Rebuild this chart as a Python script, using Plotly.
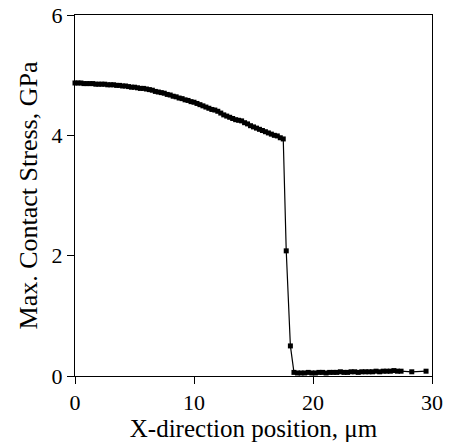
import plotly.graph_objects as go

x_pos = [0, 0.25, 0.5, 0.75, 1, 1.25, 1.5, 1.75, 2, 2.25, 2.5, 2.75, 3, 3.25, 3.5, 3.75,
         4, 4.25, 4.5, 4.75, 5, 5.25, 5.5, 5.75, 6, 6.25, 6.5, 6.75, 7, 7.25, 7.5, 7.75,
         8, 8.25, 8.5, 8.75, 9, 9.25, 9.5, 9.75, 10, 10.25, 10.5, 10.75, 11, 11.25, 11.5,
         11.75, 12, 12.25, 12.5, 12.75, 13, 13.25, 13.5, 13.75, 14, 14.25, 14.5, 14.75,
         15, 15.25, 15.5, 15.75, 16, 16.25, 16.5, 16.75, 17, 17.25, 17.5,
         17.75, 18.1, 18.4, 18.7, 19.0, 19.3, 19.6, 19.9, 20.2, 20.5, 20.8, 21.1, 21.4,
         21.7, 22.0, 22.3, 22.6, 22.9, 23.2, 23.5, 23.8, 24.1, 24.4, 24.7, 25.0, 25.3,
         25.6, 25.9, 26.2, 26.5, 26.8, 27.1, 27.4, 28.3, 29.5]
stress = [4.87, 4.87, 4.87, 4.86, 4.86, 4.86, 4.86, 4.85, 4.85, 4.85, 4.85, 4.84, 4.84,
          4.84, 4.83, 4.83, 4.82, 4.82, 4.81, 4.80, 4.80, 4.79, 4.78, 4.78, 4.77, 4.76,
          4.75, 4.73, 4.72, 4.71, 4.70, 4.68, 4.67, 4.65, 4.64, 4.62, 4.61, 4.59, 4.58,
          4.56, 4.55, 4.53, 4.51, 4.49, 4.47, 4.45, 4.43, 4.42, 4.40, 4.37, 4.34, 4.32,
          4.30, 4.28, 4.26, 4.25, 4.24, 4.21, 4.19, 4.16, 4.14, 4.12, 4.10, 4.08, 4.06,
          4.04, 4.02, 4.00, 3.99, 3.96, 3.94,
          2.08, 0.50, 0.06, 0.05, 0.05, 0.05, 0.06, 0.05, 0.05, 0.06, 0.06, 0.05, 0.06,
          0.06, 0.06, 0.07, 0.06, 0.06, 0.07, 0.07, 0.06, 0.07, 0.07, 0.07, 0.07, 0.08,
          0.07, 0.08, 0.08, 0.08, 0.09, 0.08, 0.08, 0.07, 0.08]

x_ticks = [0, 10, 20, 30]
y_ticks = [0, 2, 4, 6]

fig = go.Figure()
fig.add_trace(go.Scatter(
    x=x_pos, y=stress, mode="lines+markers",
    line=dict(color="black", width=1.2),
    marker=dict(symbol="square", size=5, color="black"),
    showlegend=False, cliponaxis=False,
))

font = dict(family="Liberation Serif, Times New Roman, serif", color="black")
fig.update_layout(
    width=453, height=445,
    margin=dict(l=75, r=21, t=15, b=69, autoexpand=False),
    paper_bgcolor="white", plot_bgcolor="white",
    font=dict(size=22, **font),
)
fig.update_xaxes(
    range=[0, 30], tickvals=x_ticks, ticks="outside", ticklen=7, tickwidth=1,
    tickcolor="black", showline=True, linecolor="black", linewidth=1, mirror=True,
    showgrid=False, zeroline=False, tickfont=dict(size=22), automargin=False,
    title=dict(text="X-direction position, μm", font=dict(size=25), standoff=4),
)
fig.update_yaxes(
    range=[0, 6], tickvals=y_ticks, ticks="outside", ticklen=7, tickwidth=1,
    tickcolor="black", showline=True, linecolor="black", linewidth=1, mirror=True,
    showgrid=False, zeroline=False, tickfont=dict(size=22), automargin=False,
    title=dict(text="Max. Contact Stress, GPa", font=dict(size=26), standoff=6),
)
fig.write_html("out.html", config={"displayModeBar": False},
               post_script="document.body.style.margin='0';")
